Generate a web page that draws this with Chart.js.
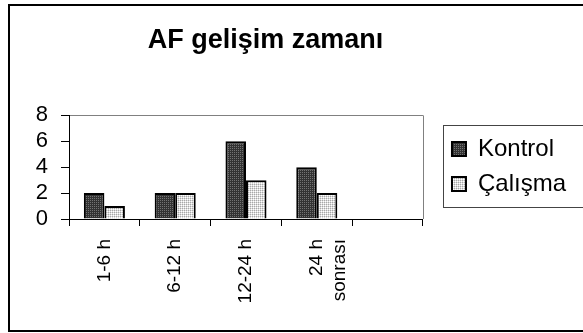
<!DOCTYPE html>
<html>
<head>
<meta charset="utf-8">
<script src="https://cdn.jsdelivr.net/npm/chart.js@4.4.0/dist/chart.umd.min.js"></script>
<style>
html, body { margin: 0; padding: 0; background: #fff; }
#wrap { position: relative; width: 583px; height: 333px; }
</style>
</head>
<body>
<div id="wrap"><canvas id="c" width="583" height="333"></canvas></div>
<script>
// chart data
var categories = ['1-6 h', '6-12 h', '12-24 h', ['24 h', 'sonrası'], ''];
var kontrol = [2, 2, 6, 4, null];
var calisma = [1, 2, 3, 2, null];
var yTicks = [0, 2, 4, 6, 8];

var FONT = "'Liberation Sans', Arial, sans-serif";
var canvas = document.getElementById('c');
var ctx = canvas.getContext('2d');

// small dotted fills like the old excel patterns
function makePattern(base, dot, light) {
    var p = document.createElement('canvas');
    p.width = 2;
    p.height = 2;
    var pc = p.getContext('2d');
    pc.fillStyle = base;
    pc.fillRect(0, 0, 2, 2);
    pc.fillStyle = dot;
    pc.fillRect(0, 0, 1, 1);
    if (light) {
        pc.fillStyle = light;
        pc.fillRect(1, 1, 1, 1);
    }
    return ctx.createPattern(p, 'repeat');
}

var darkFill = makePattern('#333333', '#737373');
var lightFill = makePattern('#dcdcdc', '#a8a8a8', '#ffffff');

var framePlugin = {
    id: 'frame',
    beforeDraw: function (chart) {
        var c = chart.ctx;
        c.save();
        c.fillStyle = '#fff';
        c.fillRect(0, 0, chart.width, chart.height);
        c.strokeStyle = '#000';
        c.lineWidth = 2;
        c.strokeRect(9, 5, 620, 326);
        c.restore();
    },
    afterLayout: function (chart) {
        // excel centres the title a bit left of the canvas middle
        if (chart.titleBlock) {
            chart.titleBlock.left = 8;
            chart.titleBlock.right = 523;
        }
        // leave a gap between the plot and the legend
        if (chart.legend) {
            chart.legend.left += 18;
            chart.legend.right += 18;
        }
    },
    beforeDatasetsDraw: function (chart) {
        var a = chart.chartArea;
        var c = chart.ctx;
        c.save();
        c.strokeStyle = '#808080';
        c.lineWidth = 1;
        c.beginPath();
        c.moveTo(Math.round(a.right) + 0.5, a.top);
        c.lineTo(Math.round(a.right) + 0.5, a.bottom);
        c.stroke();
        c.restore();
    },
    afterDraw: function (chart) {
        var hb = chart.legend && chart.legend.legendHitBoxes;
        if (!hb || !hb.length) return;
        var last = hb[hb.length - 1];
        var c = chart.ctx;
        c.save();
        c.strokeStyle = '#444';
        c.lineWidth = 1;
        c.strokeRect(443.5, hb[0].top - 11.5, 200, last.top + last.height - hb[0].top + 23);
        c.restore();
    }
};

var chart = new Chart(canvas, {
    type: 'bar',
    data: {
        labels: categories,
        datasets: [{
            label: 'Kontrol',
            data: kontrol,
            backgroundColor: darkFill,
            borderColor: '#000',
            borderWidth: 2,
            categoryPercentage: 0.58,
            barPercentage: 1
        }, {
            label: 'Çalışma',
            data: calisma,
            backgroundColor: lightFill,
            borderColor: '#000',
            borderWidth: 2,
            categoryPercentage: 0.58,
            barPercentage: 1
        }]
    },
    options: {
        responsive: false,
        animation: false,
        devicePixelRatio: 1,
        layout: { padding: { left: 8, top: 0, right: 25, bottom: 0 } },
        plugins: {
            title: {
                display: true,
                text: 'AF gelişim zamanı',
                color: '#000',
                font: { family: FONT, size: 27, weight: 'bold' },
                padding: { top: 24, bottom: 59 }
            },
            legend: {
                position: 'right',
                labels: {
                    color: '#000',
                    font: { family: FONT, size: 24 },
                    boxWidth: 14,
                    boxHeight: 14,
                    padding: 11
                }
            },
            tooltip: { enabled: false }
        },
        scales: {
            x: {
                grid: {
                    display: true,
                    drawOnChartArea: false,
                    offset: true,
                    color: '#000',
                    tickLength: 7
                },
                border: { display: true, color: '#000', width: 1 },
                ticks: {
                    color: '#000',
                    font: { family: FONT, size: 19 },
                    minRotation: 90,
                    maxRotation: 90,
                    autoSkip: false,
                    padding: 13
                },
                afterFit: function (s) { s.height = 114; }
            },
            y: {
                min: 0,
                max: 8,
                afterBuildTicks: function (s) {
                    s.ticks = yTicks.map(function (v) { return { value: v }; });
                },
                grid: {
                    color: function (c) { return c.tick && c.tick.value === 8 ? '#808080' : 'rgba(0,0,0,0)'; },
                    tickColor: '#000',
                    tickLength: 8
                },
                border: { display: true, color: '#000', width: 1 },
                ticks: {
                    color: '#000',
                    font: { family: FONT, size: 22 },
                    autoSkip: false,
                    padding: 13
                },
                afterFit: function (s) { s.width = 61; }
            }
        }
    },
    plugins: [framePlugin]
});
</script>
</body>
</html>
